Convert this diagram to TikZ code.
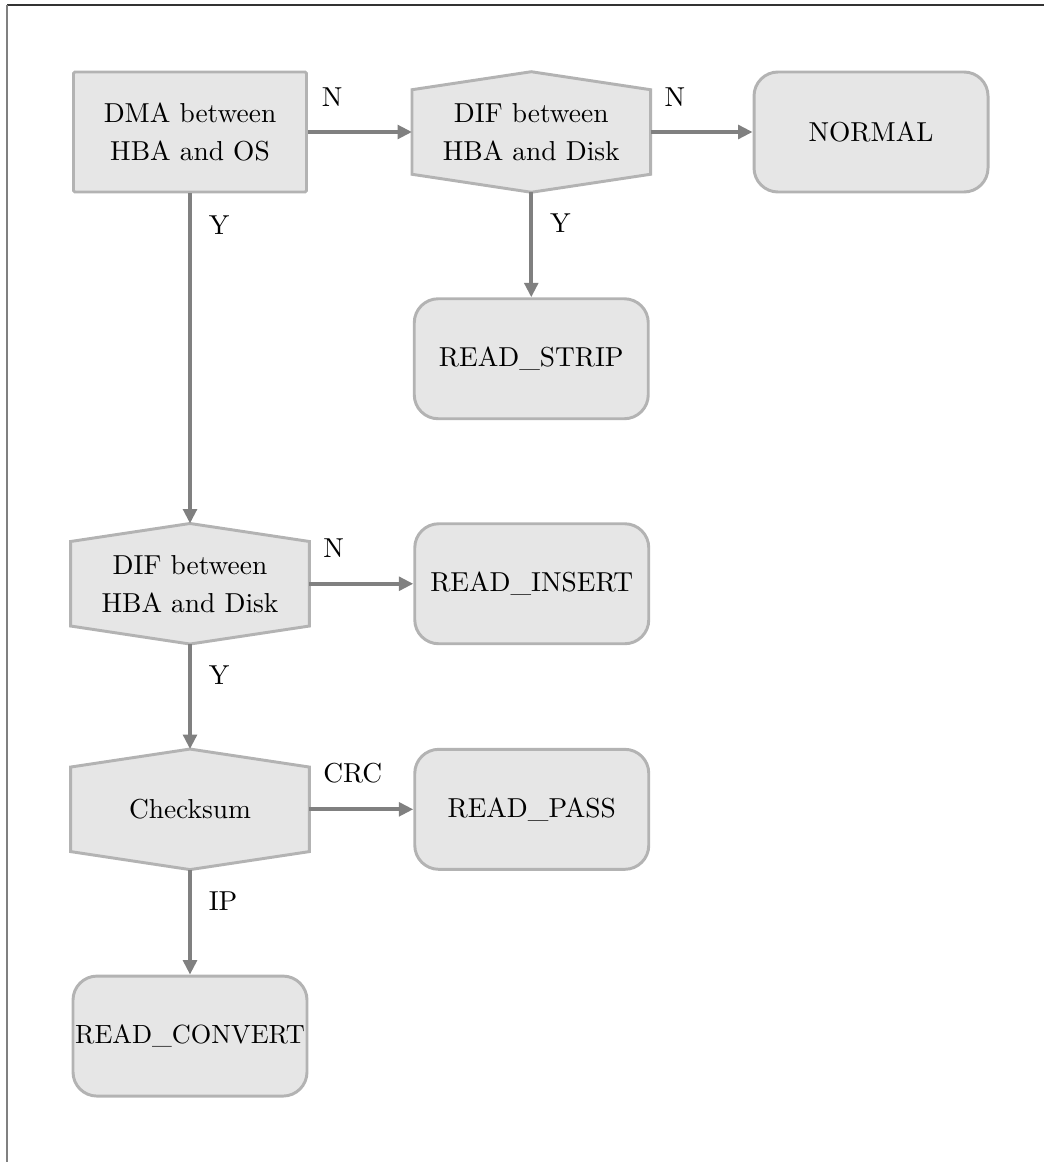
\documentclass[tikz,border=0pt]{standalone}
\usepackage{fontspec}
\setmainfont{lmroman10-regular}[Extension=.otf]
\usepackage{tikz}
\usetikzlibrary{arrows.meta,backgrounds,calc,positioning}
\definecolor{boxfill}{HTML}{E6E6E6}
\definecolor{boxline}{HTML}{B3B3B3}
\definecolor{arrowgray}{HTML}{808080}
\tikzset{
  txt/.style={font=\fontsize{19.5}{27}\selectfont, align=center},
  plainbox/.style={txt, draw=boxline, fill=boxfill, line width=2.1pt, minimum width=5.825cm, minimum height=3cm, rounded corners=1pt},
  statebox/.style={txt, draw=boxline, fill=boxfill, line width=2.1pt, minimum width=5.85cm, minimum height=3cm, rounded corners=0.6cm, inner sep=0pt},
  hexbox/.style={txt, minimum width=5.95cm, minimum height=3cm, inner sep=0pt},
  hexline/.style={draw=boxline, fill=boxfill, line width=2.1pt},
  conn/.style={draw=arrowgray, line width=2.8pt, -{Triangle[length=0.36cm,width=0.34cm]}},
  hlbl/.style={font=\fontsize{19.5}{27}\selectfont, inner sep=0pt, pos=0, anchor=south west, xshift=0.3cm, yshift=0.6cm},
  vlbl/.style={font=\fontsize{19.5}{27}\selectfont, inner sep=0pt, pos=0, anchor=north west, xshift=0.42cm, yshift=-0.5cm}
}
\begin{document}
\begin{tikzpicture}
\useasboundingbox (0,0) rectangle (26.1,-29.05);
% frame
\draw[line width=1.1pt, black!80] (0.175,-0.125) -- (26.1,-0.125);
\draw[line width=1.4pt, arrowgray] (0.175,-0.125) -- (0.175,-29.05);

% nodes
\node[plainbox] (dma) at (4.75,-3.3) {DMA between\\HBA and OS};
\node[hexbox, right=2.6cm of dma] (dif1) {DIF between\\HBA and Disk};
\node[statebox, right=2.55cm of dif1] (normal) {NORMAL};
\node[statebox, below=2.625cm of dif1] (strip) {READ\_STRIP};
\node[hexbox, below=8.25cm of dma] (dif2) {DIF between\\HBA and Disk};
\node[statebox, right=2.6cm of dif2] (insert) {READ\_INSERT};
\node[hexbox, below=2.625cm of dif2] (chk) {Checksum};
\node[statebox, right=2.6cm of chk] (pass) {READ\_PASS};
\node[statebox, font=\fontsize{18.7}{27}\selectfont, below=2.625cm of chk] (convert) {READ\_CONVERT};

% hexagons behind the text
\begin{scope}[on background layer]
\foreach \h in {dif1,dif2,chk}
  \path[hexline] (\h.north) -- ($(\h.north east)+(0,-0.45cm)$) -- ($(\h.south east)+(0,0.45cm)$)
    -- (\h.south) -- ($(\h.south west)+(0,0.45cm)$) -- ($(\h.north west)+(0,-0.45cm)$) -- cycle;
\end{scope}

% connectors
\draw[conn] (dma) -- node[hlbl]{N} (dif1);
\draw[conn] (dif1) -- node[hlbl]{N} (normal);
\draw[conn] (dif1) -- node[vlbl]{Y} (strip);
\draw[conn] (dma) -- node[vlbl]{Y} (dif2);
\draw[conn] (dif2) -- node[hlbl]{N} (insert);
\draw[conn] (dif2) -- node[vlbl]{Y} (chk);
\draw[conn] (chk) -- node[hlbl]{CRC} (pass);
\draw[conn] (chk) -- node[vlbl]{IP} (convert);
\end{tikzpicture}
\end{document}
